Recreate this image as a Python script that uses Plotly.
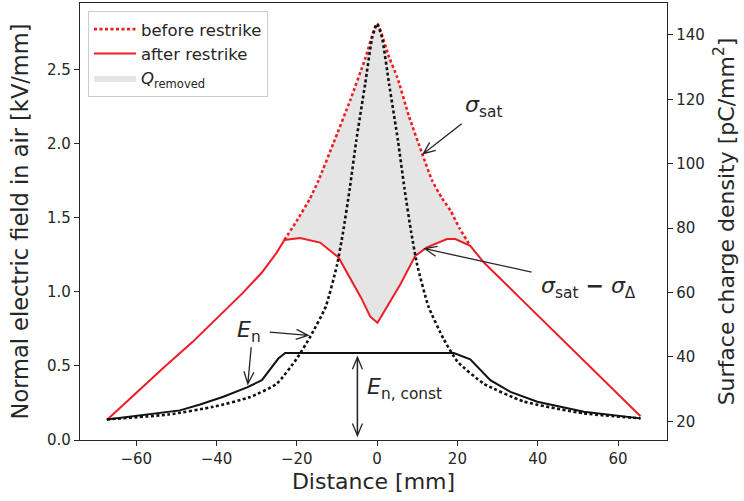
import math
import numpy as np
import plotly.graph_objects as go

# ---------------- data ----------------
# surface charge density [pC/mm^2] after restrike (solid red)
dist_after = [-67.3, -60.7, -53.2, -46.0, -40.0, -33.5, -28.7, -25.0, -23.1, -19.2, -14.2, -9.6,
              -4.0, -1.7, 0.1, 3.3, 5.8, 9.5, 12.4, 17.4, 19.5, 23.2, 26.6, 36.0, 46.0, 56.0, 65.6]
sigma_after = [20.4, 28.0, 36.6, 44.6, 52.0, 59.8, 66.2, 72.4, 76.3, 76.9, 75.5, 70.9,
               58.4, 52.5, 50.6, 57.4, 62.6, 71.4, 74.0, 76.6, 76.6, 74.5, 69.3, 57.8, 45.6, 33.4, 21.6]

# surface charge density before restrike (dotted red, sigma_sat) where it differs
dist_before = [-23.1, -20.0, -16.8, -14.6, -10.9, -6.7, -3.0, 0.0, 3.0, 5.0, 8.0,
               11.2, 13.7, 16.2, 18.3, 20.5, 23.2]
sigma_before = [76.3, 82.3, 89.0, 94.8, 106.3, 119.7, 132.5, 143.5, 133.0, 126.9, 114.5,
                103.2, 94.8, 89.2, 85.4, 80.0, 74.5]

# normal electric field [kV/mm] before restrike (dotted black)
dist_E_before = [-67.3, -52.0, -40.8, -31.6, -25.0, -20.0, -16.6, -12.8, -10.0, -8.5, -6.8, -5.2,
                 -3.0, -1.2, 0.0, 1.2, 3.0, 5.2, 6.8, 8.5, 10.0, 12.8, 16.6, 20.0, 26.6, 36.5, 51.5, 65.6]
E_before = [0.139, 0.172, 0.224, 0.29, 0.38, 0.55, 0.70, 0.90, 1.18, 1.40, 1.70, 2.02,
            2.40, 2.72, 2.81, 2.72, 2.40, 2.02, 1.70, 1.40, 1.18, 0.90, 0.68, 0.53, 0.38, 0.26, 0.18, 0.146]

# normal electric field after restrike (solid black)
dist_E_after = [-67.3, -49.1, -44.1, -38.3, -32.4, -28.7, -24.6, -22.9, 19.1, 23.2, 28.2, 33.2, 39.9, 51.5, 65.6]
E_after = [0.139, 0.20, 0.24, 0.292, 0.355, 0.404, 0.55, 0.587, 0.587, 0.544, 0.404, 0.325, 0.258, 0.19, 0.146]

x_ticks = [-60, -40, -20, 0, 20, 40, 60]
x_ticktext = ["\u221260", "\u221240", "\u221220", "0", "20", "40", "60"]
E_ticks = [0.0, 0.5, 1.0, 1.5, 2.0, 2.5]
sigma_ticks = [20, 40, 60, 80, 100, 120, 140]

RED = "#ee1c25"
INK = "#262626"
FONT = "DejaVu Sans"

fig = go.Figure()

# fill region (Q_removed) between before/after curves
da = np.array(dist_after)
sa = np.array(sigma_after)
mask = (da >= dist_before[0]) & (da <= dist_before[-1])
fig.add_trace(go.Scatter(x=da[mask], y=sa[mask], yaxis="y", mode="lines", line=dict(width=0),
                         showlegend=False, hoverinfo="skip"))
fig.add_trace(go.Scatter(x=dist_before, y=sigma_before, yaxis="y", mode="lines",
                         line=dict(width=0, shape="spline", smoothing=0.5),
                         fill="tonexty", fillcolor="#e5e5e5", name="<i>Q</i><sub>removed</sub>",
                         legendrank=3))
fig.add_trace(go.Scatter(x=dist_before, y=sigma_before, yaxis="y", mode="lines",
                         line=dict(color=RED, width=2.6, dash="3px,2.5px", shape="spline", smoothing=0.5),
                         name="before restrike", legendrank=1))
fig.add_trace(go.Scatter(x=dist_after, y=sigma_after, yaxis="y", mode="lines",
                         line=dict(color=RED, width=2),
                         name="after restrike", legendrank=2))
# E-field curves on the left axis
fig.add_trace(go.Scatter(x=dist_E_before, y=E_before, yaxis="y2", mode="lines",
                         line=dict(color="#111111", width=2.6, dash="3px,2.5px", shape="spline", smoothing=0.5),
                         showlegend=False))
fig.add_trace(go.Scatter(x=dist_E_after, y=E_after, yaxis="y2", mode="lines",
                         line=dict(color="#111111", width=2), showlegend=False))


def arrow_path(tx, ty, lh=12.0, w=5.0):
    d = math.hypot(tx, ty)
    ux, uy = -tx / d, -ty / d
    nx, ny = -uy, ux
    p1 = (-lh * ux + w * nx, -lh * uy + w * ny)
    p2 = (-lh * ux - w * nx, -lh * uy - w * ny)
    return (f"M {tx:.1f},{ty:.1f} L 0,0 M {p1[0]:.1f},{p1[1]:.1f} L 0,0 L {p2[0]:.1f},{p2[1]:.1f}")


def arrow(hx, hy, yref, tx, ty):
    return dict(type="path", xref="x", yref=yref, xsizemode="pixel", ysizemode="pixel",
                xanchor=hx, yanchor=hy, path=arrow_path(tx, ty),
                line=dict(color=INK, width=1.3))


shapes = [
    arrow(11.5, 103.1, "y", 38.4, 30.0),      # sigma_sat
    arrow(11.9, 73.6, "y", 106.7, -23.4),     # sigma_sat - sigma_delta
    arrow(-17.2, 0.706, "y2", -38.3, 3.3),    # E_n (dotted)
    arrow(-32.2, 0.380, "y2", 3.4, 36.6),     # E_n (solid)
    arrow(-4.9, 0.559, "y2", 0.0, -78.0),     # E_n,const top
    arrow(-4.9, 0.030, "y2", 0.0, 78.0),      # E_n,const bottom
]

ann_font = dict(family=FONT, size=22, color=INK)
annotations = [
    dict(x=26.4, y=117.8, xref="x", yref="y", text="<i>σ</i><sub>sat</sub>", showarrow=False, font=ann_font),
    dict(x=52.6, y=61.6, xref="x", yref="y", text="<i>σ</i><sub>sat</sub> <b>−</b> <i>σ</i><sub>Δ</sub>",
         showarrow=False, font=ann_font),
    dict(x=-32.0, y=0.733, xref="x", yref="y2", text="<i>E</i><sub>n</sub>", showarrow=False, font=ann_font),
    dict(x=6.9, y=0.348, xref="x", yref="y2", text="<i>E</i><sub>n, const</sub>", showarrow=False, font=ann_font),
]

axis_common = dict(showline=True, linecolor=INK, linewidth=1.25, ticks="outside", ticklen=5,
                   tickwidth=1.25, tickcolor=INK, showgrid=False, zeroline=False,
                   tickfont=dict(family=FONT, size=15, color=INK))

fig.update_layout(
    width=744, height=501,
    margin=dict(l=80, r=77, t=3, b=61),
    paper_bgcolor="white", plot_bgcolor="white",
    font=dict(family=FONT, color=INK),
    xaxis=dict(range=[-74.0, 72.2], tickvals=x_ticks, ticktext=x_ticktext, mirror=True,
               title=dict(text="Distance [mm]", font=dict(family=FONT, size=22, color=INK), standoff=6),
               **axis_common),
    yaxis=dict(side="right", range=[14.2, 149.9], tickvals=sigma_ticks,
               title=dict(text="Surface charge density [pC/mm<sup>2</sup>]",
                          font=dict(family=FONT, size=22, color=INK), standoff=14),
               **axis_common),
    yaxis2=dict(side="left", overlaying="y", range=[0, 2.95], tickvals=E_ticks,
                ticktext=[f"{v:.1f}" for v in E_ticks],
                title=dict(text="Normal electric field in air [kV/mm]",
                           font=dict(family=FONT, size=22.5, color=INK), standoff=12),
                **axis_common),
    legend=dict(x=0.0136, y=0.982, xanchor="left", yanchor="top", bgcolor="rgba(255,255,255,0.85)",
                bordercolor="#cccccc", borderwidth=1, font=dict(family=FONT, size=16.5, color=INK),
                traceorder="normal", itemwidth=42),
    shapes=shapes,
    annotations=annotations,
    showlegend=True,
)

fig.write_html("out.html")
